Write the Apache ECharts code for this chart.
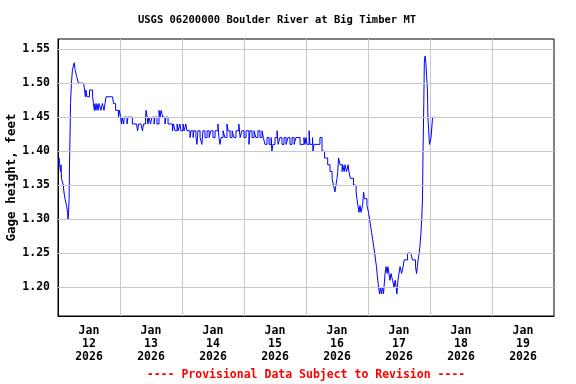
<!DOCTYPE html>
<html>
<head>
<meta charset="utf-8">
<script src="https://cdn.jsdelivr.net/npm/echarts@6/dist/echarts.min.js"></script>
<style>html,body{margin:0;padding:0;background:#fff}#c{width:576px;height:384px}</style>
</head>
<body>
<div id="c"></div>
<script>
// Hours since Jan 12 2026 00:00
const hours = [0.2,0.4,0.65,0.97,1.16,1.35,1.74,2.05,2.3,2.7,3.3,3.7,3.9,4.1,4.3,4.45,4.65,4.85,5.2,5.6,6.0,6.3,6.6,6.85,7.2,7.9,9.9,10.3,10.6,10.8,11.2,11.6,12.2,12.8,13.4,13.7,14.1,14.3,14.7,15.1,15.5,15.9,16.6,17.2,17.8,18.2,18.6,21.1,21.5,22.3,23.0,23.4,23.8,24.2,24.6,24.8,25.4,25.7,26.3,26.7,27.1,27.9,28.8,30.4,30.8,31.2,32.1,32.7,33.1,33.9,34.1,34.5,34.8,35.2,35.8,36.4,37.2,37.5,38.3,39.1,39.5,39.9,40.6,41.4,41.8,42.6,43.4,44.3,44.7,45.3,46.1,46.5,47.2,47.6,48.4,48.8,49.5,49.9,51.1,51.5,52.3,52.6,53.4,53.8,54.2,55.0,55.7,56.1,56.9,57.7,58.5,59.2,60.0,60.8,61.9,62.3,62.7,63.1,63.9,64.6,65.4,65.8,66.6,67.4,68.1,68.9,70.0,70.5,71.2,72.0,72.8,73.9,74.3,75.1,75.9,76.6,77.4,78.2,79.0,79.5,80.1,80.9,81.7,82.5,82.8,83.2,84.0,84.8,85.2,85.9,86.7,87.5,88.3,89.0,89.8,90.6,91.4,92.1,93.7,95.2,95.6,96.0,96.4,97.2,97.5,98.5,98.7,99.1,99.5,99.9,100.6,101.4,102.2,102.8,103.2,103.8,104.4,105.0,105.3,106.1,106.6,107.2,107.6,108.0,108.3,108.6,109.2,110.0,110.2,110.8,111.1,111.7,112.3,112.6,113.2,113.8,114.4,115.4,115.7,116.1,116.5,116.9,117.3,117.9,118.3,118.6,119.2,119.6,120.2,120.6,121.0,121.4,121.8,122.2,122.6,122.9,123.3,123.5,123.8,124.1,124.5,124.8,125.2,125.6,126.0,126.6,127.0,127.4,127.7,128.1,128.5,128.9,129.5,130.1,130.5,130.9,131.2,131.6,132.0,132.4,133.0,133.6,134.0,134.5,135.3,136.6,137.2,138.4,138.8,139.1,139.4,139.8,140.1,140.5,140.8,141.1,141.3,141.6,141.8,142.0,142.1,142.4,142.7,143.0,143.2,143.5,143.8,144.1,144.4,144.8,145.0,145.4,145.9];
const gageHeight = [1.38,1.39,1.38,1.37,1.38,1.36,1.36,1.35,1.34,1.33,1.32,1.31,1.30,1.31,1.33,1.38,1.42,1.47,1.50,1.52,1.52,1.53,1.52,1.52,1.51,1.50,1.50,1.49,1.48,1.49,1.48,1.48,1.49,1.49,1.48,1.47,1.46,1.47,1.46,1.47,1.46,1.47,1.46,1.47,1.46,1.47,1.48,1.48,1.47,1.46,1.46,1.45,1.46,1.45,1.44,1.45,1.44,1.45,1.45,1.44,1.45,1.45,1.44,1.44,1.43,1.44,1.44,1.43,1.44,1.45,1.46,1.45,1.44,1.45,1.44,1.45,1.44,1.45,1.44,1.46,1.45,1.46,1.45,1.44,1.45,1.44,1.44,1.43,1.44,1.43,1.44,1.43,1.44,1.43,1.44,1.43,1.44,1.43,1.42,1.43,1.42,1.43,1.42,1.41,1.43,1.42,1.41,1.43,1.42,1.43,1.42,1.43,1.42,1.43,1.44,1.42,1.41,1.42,1.43,1.42,1.44,1.43,1.42,1.43,1.42,1.43,1.44,1.42,1.43,1.42,1.43,1.41,1.43,1.42,1.43,1.42,1.43,1.42,1.43,1.42,1.41,1.42,1.41,1.42,1.40,1.41,1.42,1.43,1.41,1.42,1.41,1.42,1.41,1.42,1.41,1.42,1.41,1.42,1.41,1.42,1.41,1.42,1.41,1.43,1.41,1.42,1.40,1.41,1.41,1.41,1.41,1.42,1.40,1.40,1.39,1.39,1.38,1.38,1.37,1.36,1.35,1.34,1.35,1.36,1.37,1.39,1.38,1.37,1.38,1.37,1.38,1.37,1.38,1.37,1.36,1.36,1.35,1.34,1.33,1.32,1.31,1.32,1.31,1.32,1.34,1.33,1.33,1.32,1.31,1.30,1.29,1.28,1.27,1.26,1.25,1.24,1.23,1.22,1.21,1.20,1.19,1.20,1.19,1.20,1.19,1.22,1.23,1.22,1.23,1.22,1.21,1.22,1.21,1.20,1.21,1.20,1.19,1.21,1.22,1.23,1.22,1.23,1.24,1.24,1.25,1.25,1.24,1.23,1.22,1.23,1.24,1.25,1.26,1.28,1.30,1.33,1.40,1.47,1.53,1.53,1.54,1.53,1.51,1.49,1.45,1.43,1.41,1.41,1.42,1.44,1.45];
const yTicks = [1.20,1.25,1.30,1.35,1.40,1.45,1.50,1.55];
const dayMonth = ['Jan','Jan','Jan','Jan','Jan','Jan','Jan','Jan'];
const dayNum = ['12','13','14','15','16','17','18','19'];
const dayYear = ['2026','2026','2026','2026','2026','2026','2026','2026'];
const titleText = 'USGS 06200000 Boulder River at Big Timber MT';
const yName = 'Gage height, feet';
const footerText = '---- Provisional Data Subject to Revision ----';

const FONT = '"DejaVu Sans Mono", monospace';
const dayLabels = dayMonth.map((m,i)=> m + '\n' + dayNum[i] + '\n' + dayYear[i]);
const seriesData = hours.map((h,i)=>[h, gageHeight[i]]);

const chart = echarts.init(document.getElementById('c'), null, {renderer:'canvas'});
chart.setOption({
  animation:false,
  backgroundColor:'#fff',
  grid:{left:58, top:39, width:496, height:277, containLabel:false, outerBoundsMode:'none', show:true, borderColor:'#000', borderWidth:1, backgroundColor:'transparent'},
  xAxis:[{
    type:'value', min:0, max:192, interval:24,
    axisLine:{show:true, lineStyle:{color:'#000', width:1}},
    axisTick:{show:false}, axisLabel:{show:false},
    splitLine:{show:true, showMinLine:false, showMaxLine:false, lineStyle:{color:'#c8c8c8', width:1}}
  },{
    type:'category', data:dayLabels, position:'bottom', boundaryGap:true,
    axisLine:{show:false}, axisTick:{show:false}, splitLine:{show:false},
    axisLabel:{show:true, interval:0, margin:9, color:'#000', fontFamily:FONT, fontWeight:'bold', fontSize:11.5, lineHeight:13}
  }],
  yAxis:{
    type:'value', min:1.1575, max:1.565,
    name:yName, nameLocation:'middle', nameGap:40, nameMoveOverlap:false,
    nameTextStyle:{color:'#000', fontFamily:FONT, fontWeight:'bold', fontSize:12.5},
    axisLine:{show:true, lineStyle:{color:'#000', width:1}},
    axisTick:{show:false},
    splitLine:{show:false},
    axisLabel:{show:true, customValues:yTicks, margin:8, color:'#000', fontFamily:FONT, fontWeight:'bold', fontSize:11.5, formatter:v=>v.toFixed(2)}
  },
  graphic:[
    {type:'text', x:277, y:20, style:{text:titleText, fill:'#000', font:'bold 10.5px '+FONT, textAlign:'center', textVerticalAlign:'middle'}},
    {type:'text', x:306, y:375, style:{text:footerText, fill:'#ff0000', font:'bold 11.5px '+FONT, textAlign:'center', textVerticalAlign:'middle'}}
  ],
  series:[{
    type:'line', data:[], z:1, silent:true,
    markLine:{silent:true, symbol:'none', label:{show:false}, animation:false,
      lineStyle:{color:'#c8c8c8', type:'solid', width:1},
      data:yTicks.map(v=>({yAxis:v}))}
  },{
    type:'line', data:seriesData, xAxisIndex:0, step:'end', showSymbol:false, z:3,
    lineStyle:{color:'#0000ff', width:1}
  }]
});
</script>
</body>
</html>
